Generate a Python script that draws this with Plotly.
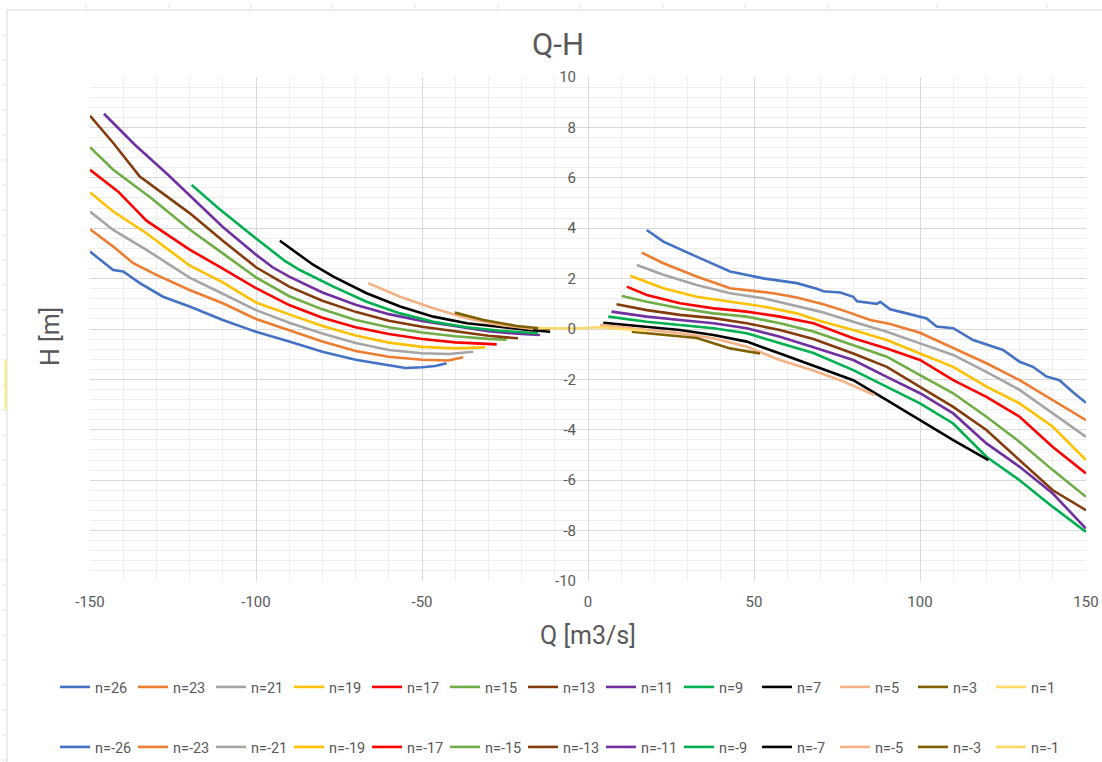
import plotly.graph_objects as go

# ---------------- data ----------------
n_labels = [26, 23, 21, 19, 17, 15, 13, 11, 9, 7, 5, 3, 1]
colors = ["#4472C4", "#ED7D31", "#A5A5A5", "#FFC000", "#FF0000", "#70AD47", "#843C0C",
          "#7030A0", "#00B050", "#000000", "#F4B183", "#7F6000", "#FFD966"]

x_tick_vals = [-150, -100, -50, 0, 50, 100, 150]
x_tick_text = ["-150", "-100", "-50", "0", "50", "100", "150"]
y_tick_vals = [-10, -8, -6, -4, -2, 0, 2, 4, 6, 8, 10]
y_tick_text = ["-10", "-8", "-6", "-4", "-2", "0", "2", "4", "6", "8", "10"]

# positive n (right-hand branch)
q_p26 = [17.7, 22.7, 32.7, 42.8, 52.8, 62.9, 68.9, 70.9, 76, 79.9, 81, 87, 88, 91, 96, 100, 102, 105, 110, 116, 125, 130, 134, 138, 142, 146, 148, 150]
h_p26 = [3.93, 3.47, 2.87, 2.28, 2.01, 1.82, 1.60, 1.50, 1.45, 1.28, 1.10, 1.00, 1.08, 0.78, 0.62, 0.49, 0.42, 0.10, 0.03, -0.44, -0.83, -1.30, -1.50, -1.88, -2.03, -2.50, -2.70, -2.93]
q_p23 = [16.2, 22.7, 32.7, 42.8, 55.8, 62.9, 70.9, 77.9, 85, 91, 100, 110, 120, 130, 140, 150]
h_p23 = [3.03, 2.61, 2.08, 1.62, 1.42, 1.25, 0.98, 0.69, 0.36, 0.20, -0.15, -0.77, -1.36, -2.03, -2.82, -3.62]
q_p21 = [14.7, 22.7, 32.7, 42.8, 52.8, 62.9, 69.9, 79.9, 90, 100, 110, 120, 130, 140, 150]
h_p21 = [2.54, 2.15, 1.75, 1.42, 1.22, 0.89, 0.69, 0.29, -0.11, -0.57, -1.03, -1.70, -2.42, -3.35, -4.28]
q_p19 = [12.7, 22.7, 32.7, 42.8, 52.8, 62.9, 69.9, 79.9, 90, 100, 110, 120, 130, 140, 150]
h_p19 = [2.11, 1.62, 1.28, 1.08, 0.89, 0.62, 0.32, -0.04, -0.44, -0.97, -1.50, -2.29, -2.95, -3.88, -5.20]
q_p17 = [11.7, 17.7, 27.7, 37.8, 47.8, 57.8, 67.9, 75.9, 79.9, 90, 100, 110, 120, 130, 140, 150]
h_p17 = [1.68, 1.35, 1.02, 0.82, 0.69, 0.49, 0.23, -0.15, -0.37, -0.77, -1.23, -2.03, -2.69, -3.48, -4.68, -5.73]
q_p15 = [10.2, 17.7, 27.7, 37.8, 47.8, 57.8, 67.9, 79.9, 90, 100, 110, 120, 130, 140, 150]
h_p15 = [1.31, 1.08, 0.82, 0.62, 0.49, 0.23, -0.10, -0.64, -1.10, -1.83, -2.55, -3.48, -4.48, -5.60, -6.66]
q_p13 = [8.6, 17.7, 27.7, 37.8, 47.8, 57.8, 67.9, 79.9, 90, 100, 110, 120, 130, 140, 150]
h_p13 = [0.98, 0.75, 0.56, 0.43, 0.23, -0.04, -0.40, -0.97, -1.50, -2.29, -3.09, -4.01, -5.20, -6.40, -7.19]
q_p11 = [7.1, 17.7, 27.7, 37.8, 47.8, 57.8, 67.9, 79.9, 90, 100, 110, 120, 130, 140, 150]
h_p11 = [0.69, 0.49, 0.36, 0.23, 0.03, -0.31, -0.72, -1.23, -1.90, -2.55, -3.35, -4.54, -5.47, -6.53, -7.92]
q_p9 = [6.1, 17.7, 27.7, 37.8, 47.8, 57.8, 67.9, 79.9, 90, 100, 110, 120, 130, 140, 150]
h_p9 = [0.49, 0.29, 0.16, 0.03, -0.17, -0.57, -0.95, -1.63, -2.29, -2.95, -3.75, -5.07, -6.00, -7.06, -8.05]
q_p7 = [4.6, 17.7, 27.7, 37.8, 47.8, 57.8, 67.9, 79.9, 90, 100, 110, 120.6]
h_p7 = [0.25, 0.07, -0.04, -0.24, -0.50, -0.97, -1.45, -2.03, -2.82, -3.62, -4.41, -5.20]
q_p5 = [3.6, 17.7, 27.7, 37.8, 47.8, 57.8, 67.9, 75.9, 86.3]
h_p5 = [0.16, -0.04, -0.17, -0.37, -0.70, -1.23, -1.65, -2.03, -2.62]
q_p3 = [13.2, 22.7, 32.8, 42.8, 51.8]
h_p3 = [-0.11, -0.24, -0.36, -0.77, -0.97]
q_p1 = [-2.4, 3.6, 10.6, 17.7]
h_p1 = [0.03, 0.07, 0.00, -0.08]

# negative n (left-hand branch)
q_m26 = [-150, -143, -140, -135, -128, -120, -110, -100, -90, -80, -70, -60, -55, -50, -46, -42.6]
h_m26 = [3.07, 2.34, 2.28, 1.82, 1.28, 0.89, 0.36, -0.11, -0.50, -0.90, -1.22, -1.45, -1.55, -1.52, -1.47, -1.36]
q_m23 = [-150, -143, -137, -130, -120, -110, -100, -90, -80, -70, -60, -50, -42, -37.6]
h_m23 = [3.96, 3.27, 2.61, 2.15, 1.55, 1.02, 0.40, -0.06, -0.50, -0.87, -1.10, -1.22, -1.25, -1.12]
q_m21 = [-150, -143, -133, -120, -110, -100, -90, -80, -70, -60, -50, -42, -34.6]
h_m21 = [4.66, 3.93, 3.14, 2.04, 1.40, 0.75, 0.25, -0.18, -0.56, -0.83, -0.96, -0.99, -0.90]
q_m19 = [-150, -143, -133, -120, -110, -100, -90, -80, -70, -60, -50, -40, -31]
h_m19 = [5.42, 4.66, 3.80, 2.52, 1.85, 1.05, 0.58, 0.12, -0.26, -0.54, -0.71, -0.77, -0.73]
q_m17 = [-150, -141.5, -133, -120, -110, -100, -90, -80, -70, -60, -50, -40, -27.5]
h_m17 = [6.32, 5.45, 4.30, 3.15, 2.40, 1.62, 0.95, 0.45, 0.07, -0.20, -0.40, -0.53, -0.61]
q_m15 = [-150, -143, -131.5, -120, -110, -100, -90, -80, -70, -60, -50, -40, -30, -24.5]
h_m15 = [7.22, 6.32, 5.19, 3.95, 3.00, 2.05, 1.30, 0.78, 0.36, 0.07, -0.14, -0.29, -0.39, -0.42]
q_m13 = [-150, -143, -135, -127, -120, -110, -100, -90, -80, -70, -60, -50, -40, -30, -21.1]
h_m13 = [8.46, 7.38, 6.05, 5.26, 4.60, 3.50, 2.45, 1.68, 1.12, 0.68, 0.33, 0.09, -0.10, -0.27, -0.37]
q_m11 = [-145.8, -136.5, -126.5, -120, -110, -100, -95, -90, -80, -70, -60, -50, -40, -30, -20, -14.5]
h_m11 = [8.54, 7.31, 6.12, 5.30, 4.05, 2.95, 2.45, 2.08, 1.45, 0.96, 0.59, 0.32, 0.10, -0.09, -0.20, -0.24]
q_m9 = [-119.4, -111.4, -101.3, -91.3, -86.8, -76.7, -66.7, -56.6, -46.6, -36.5, -26.5, -15.1]
h_m9 = [5.72, 4.80, 3.73, 2.70, 2.34, 1.68, 1.08, 0.62, 0.29, 0.07, -0.07, -0.17]
q_m7 = [-92.8, -86.8, -82.8, -76.7, -66.7, -56.6, -46.6, -36.5, -26.5, -18, -11.4]
h_m7 = [3.50, 2.92, 2.55, 2.08, 1.42, 0.89, 0.49, 0.23, 0.07, -0.04, -0.11]
q_m5 = [-66.2, -56.6, -46.6, -36.5, -26.5, -16.5]
h_m5 = [1.82, 1.28, 0.82, 0.43, 0.16, 0.00]
q_m3 = [-40.1, -31.5, -21.5, -11.4]
h_m3 = [0.65, 0.36, 0.12, -0.01]
q_m1 = [-15.0, -8.0, -1.5]
h_m1 = [0.04, 0.03, 0.02]

pos_q = [q_p26, q_p23, q_p21, q_p19, q_p17, q_p15, q_p13, q_p11, q_p9, q_p7, q_p5, q_p3, q_p1]
pos_h = [h_p26, h_p23, h_p21, h_p19, h_p17, h_p15, h_p13, h_p11, h_p9, h_p7, h_p5, h_p3, h_p1]
neg_q = [q_m26, q_m23, q_m21, q_m19, q_m17, q_m15, q_m13, q_m11, q_m9, q_m7, q_m5, q_m3, q_m1]
neg_h = [h_m26, h_m23, h_m21, h_m19, h_m17, h_m15, h_m13, h_m11, h_m9, h_m7, h_m5, h_m3, h_m1]

# ---------------- figure ----------------
W, H = 1102, 762
ML, MR, MT, MB = 90, 16, 77, 181
PW, PH = W - ML - MR, H - MT - MB
FONT = "Roboto, Lato, 'Open Sans', sans-serif"
TXT = "#595959"


def px_x(p):
    return (p - ML) / PW


def px_y(p):
    return (H - MB - p) / PH


fig = go.Figure()
for n, c, qs, hs in zip(n_labels, colors, pos_q, pos_h):
    fig.add_trace(go.Scatter(x=qs, y=hs, mode="lines", name=f"n={n}",
                             line=dict(color=c, width=2.6), legend="legend"))
for n, c, qs, hs in zip(n_labels, colors, neg_q, neg_h):
    fig.add_trace(go.Scatter(x=qs, y=hs, mode="lines", name=f"n=-{n}",
                             line=dict(color=c, width=2.6), legend="legend2"))

legend_common = dict(orientation="h", xanchor="left", x=px_x(55), yanchor="middle",
                     font=dict(family=FONT, size=14.5, color=TXT), bgcolor="rgba(0,0,0,0)",
                     entrywidth=33, entrywidthmode="pixels", traceorder="normal",
                     itemclick=False, itemdoubleclick=False)

shapes = []
# chart-area border
shapes.append(dict(type="line", xref="paper", yref="paper", x0=px_x(7), x1=px_x(W + 5),
                   y0=px_y(10), y1=px_y(10), line=dict(color="#d9d9d9", width=1)))
shapes.append(dict(type="line", xref="paper", yref="paper", x0=px_x(7), x1=px_x(7),
                   y0=px_y(10), y1=px_y(H + 5), line=dict(color="#d9d9d9", width=1)))
# faint worksheet cell ticks outside the chart border
for yy in range(35, H, 25):
    shapes.append(dict(type="line", xref="paper", yref="paper", x0=px_x(2), x1=px_x(7),
                       y0=px_y(yy), y1=px_y(yy), line=dict(color="#e3e3e3", width=1)))
for xx in [86, 169, 251, 332, 415, 498, 580, 663, 745, 828, 937, 1047]:
    shapes.append(dict(type="line", xref="paper", yref="paper", x0=px_x(xx), x1=px_x(xx),
                       y0=px_y(4), y1=px_y(10), line=dict(color="#e3e3e3", width=1)))
# small yellow cell highlight on the left edge
shapes.append(dict(type="line", xref="paper", yref="paper", x0=px_x(5.5), x1=px_x(5.5),
                   y0=px_y(360), y1=px_y(410), line=dict(color="#f5f07a", width=2)))

fig.update_layout(
    width=W, height=H,
    margin=dict(l=ML, r=MR, t=MT, b=MB, autoexpand=False),
    paper_bgcolor="white", plot_bgcolor="white",
    font=dict(family=FONT, color=TXT),
    title=dict(text="Q-H", x=558 / W, xref="container", xanchor="center",
               y=1 - 44 / H, yref="container", yanchor="middle",
               font=dict(family=FONT, size=31, color=TXT)),
    showlegend=True,
    legend=dict(legend_common, y=px_y(687)),
    legend2=dict(legend_common, y=px_y(747)),
    xaxis=dict(range=[-150, 150], tickmode="array", tickvals=x_tick_vals, ticktext=x_tick_text,
               showgrid=True, gridcolor="#d9d9d9", gridwidth=1, zeroline=False, showline=False,
               ticks="outside", ticklen=7, tickcolor="rgba(0,0,0,0)",
               tickfont=dict(family=FONT, size=15, color=TXT),
               minor=dict(tickmode="linear", tick0=0, dtick=10, showgrid=True,
                          gridcolor="#efefef", gridwidth=1, ticks="")),
    yaxis=dict(range=[-10, 10], tickmode="array", tickvals=y_tick_vals, ticktext=y_tick_text,
               anchor="free", position=0.5, side="left",
               showgrid=True, gridcolor="#d9d9d9", gridwidth=1, zeroline=False,
               showline=True, linecolor="#d9d9d9", linewidth=1,
               ticks="outside", ticklen=9, tickcolor="rgba(0,0,0,0)",
               tickfont=dict(family=FONT, size=15, color=TXT),
               minor=dict(tickmode="linear", tick0=0, dtick=0.4, showgrid=True,
                          gridcolor="#efefef", gridwidth=1, ticks="")),
    annotations=[
        dict(text="Q [m3/s]", xref="paper", yref="paper", x=px_x(588), y=px_y(635),
             xanchor="center", yanchor="middle", showarrow=False,
             font=dict(family=FONT, size=25, color=TXT)),
        dict(text="H [m]", xref="paper", yref="paper", x=px_x(50), y=px_y(337),
             xanchor="center", yanchor="middle", showarrow=False, textangle=-90,
             font=dict(family=FONT, size=25, color=TXT)),
    ],
    shapes=shapes,
)

fig.write_html("out.html")
